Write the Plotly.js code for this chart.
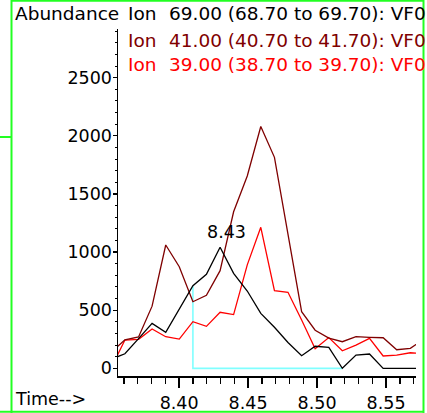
<!DOCTYPE html>
<html>
<head>
<meta charset="utf-8">
<script src="https://cdn.plot.ly/plotly-3.0.1.min.js"></script>
<style>
  html, body { margin: 0; padding: 0; background: #fff; }
  #chart { width: 427px; height: 413px; }
</style>
</head>
<body>
<div id="chart"></div>
<script>
// ---- data ----
const times = [8.3510, 8.3607, 8.3706, 8.3804, 8.3903, 8.4001, 8.4100, 8.4198, 8.4297, 8.4395,
               8.4494, 8.4592, 8.4691, 8.4789, 8.4888, 8.4986, 8.5085, 8.5183, 8.5282, 8.5380,
               8.5479, 8.5577, 8.5676, 8.5774];
const ion69 = [80, 125, 255, 387, 310, 510, 711, 809, 1041, 817,
               665, 473, 353, 222, 108, 190, 180, 0, 114, 123,
               0, 0, 0, 0];
const ion41 = [140, 245, 270, 535, 1061, 874, 573, 628, 840, 1347,
               1655, 2080, 1815, 1155, 487, 328, 260, 229, 272, 267,
               263, 160, 172, 250];
const ion39 = [10, 243, 249, 338, 272, 252, 401, 361, 482, 462,
               890, 1213, 668, 654, 416, 168, 265, 151, 200, 258,
               106, 114, 134, 125];
const legendLabels = ["69.00 (68.70 to 69.70): VF0", "41.00 (40.70 to 41.70): VF0", "39.00 (38.70 to 39.70): VF0"];
const peakLabel = "8.43";
const baselineStart = 6;   // index into times of integration start
const baselineEnd = 17;    // index into times of integration end
const apexIndex = 8;

// ---- layout geometry ----
const W = 427, H = 413;
const L = 118, R = 11, T = 29, B = 37;
const pw = W - L - R, ph = H - T - B;
const px = p => (p - L) / pw;
const py = q => (H - B - q) / ph;

const FONT = "DejaVu Sans, Arial, sans-serif";
const colors = ["#000000", "#7f0000", "#ff0000"];

const traces = [
  { x: [times[baselineStart], times[baselineStart], times[baselineEnd]],
    y: [ion69[baselineStart], 0, 0],
    mode: "lines", line: { color: "#80ffff", width: 1.6 }, hoverinfo: "skip" },
  { x: times, y: ion39, mode: "lines", line: { color: colors[2], width: 1.3 } },
  { x: times, y: ion41, mode: "lines", line: { color: colors[1], width: 1.3 } },
  { x: times, y: ion69, mode: "lines", line: { color: colors[0], width: 1.3 } }
];

const annotations = [
  { xref: "paper", yref: "paper", x: px(12.5), y: py(14), xanchor: "left", yanchor: "middle",
    text: "Abundance", showarrow: false, font: { family: FONT, size: 18.5, color: "#000" } },
  { xref: "paper", yref: "paper", x: px(12.5), y: py(399), xanchor: "left", yanchor: "middle",
    text: "Time-->", showarrow: false, font: { family: FONT, size: 17.5, color: "#000" } },
  { x: times[apexIndex], y: ion69[apexIndex], xanchor: "center", yanchor: "bottom",
    xshift: 6, yshift: 3, text: peakLabel, showarrow: false,
    font: { family: FONT, size: 17.5, color: "#000" } }
];
const lineY = [14, 40, 64];
legendLabels.forEach((lab, i) => {
  annotations.push({ xref: "paper", yref: "paper", x: px(125.5), y: py(lineY[i]), xanchor: "left", yanchor: "middle",
    text: "Ion", showarrow: false, font: { family: FONT, size: 18.5, color: colors[i] } });
  annotations.push({ xref: "paper", yref: "paper", x: px(166.5), y: py(lineY[i]), xanchor: "left", yanchor: "middle",
    text: lab, showarrow: false, font: { family: FONT, size: 18.5, color: colors[i] } });
});

const green = { color: "#22ff22", width: 2 };
const seg = (x0, y0, x1, y1) => ({ type: "line", xref: "paper", yref: "paper",
  x0: px(x0), y0: py(y0), x1: px(x1), y1: py(y1), line: green, layer: "above" });
const shapes = [
  seg(11.5, 0, 11.5, 413),
  seg(11.5, 0.8, 424, 0.8),
  seg(423.5, 0, 423.5, 413),
  seg(0, 411.8, 424, 411.8),
  seg(0, 137, 11.5, 137)
];

const layout = {
  width: W, height: H,
  margin: { l: L, r: R, t: T, b: B, pad: 0 },
  paper_bgcolor: "#fff", plot_bgcolor: "#fff",
  showlegend: false,
  font: { family: FONT, color: "#000" },
  xaxis: {
    range: [8.3557, 8.5717], showgrid: false, zeroline: false,
    showline: true, linecolor: "#000", linewidth: 1.5,
    tickmode: "linear", tick0: 8.40, dtick: 0.05, tickformat: ".2f",
    ticks: "outside", ticklen: 10, tickwidth: 1.3, tickcolor: "#000",
    minor: { dtick: 0.01, tick0: 8.40, ticks: "outside", ticklen: 6, tickwidth: 1.3, tickcolor: "#000", showgrid: false },
    tickfont: { family: FONT, size: 17.5, color: "#000" }
  },
  yaxis: {
    range: [-66, 2919], showgrid: false, zeroline: false,
    showline: true, linecolor: "#000", linewidth: 1.5,
    tickmode: "linear", tick0: 0, dtick: 500,
    ticks: "outside", ticklen: 4, tickwidth: 1.3, tickcolor: "#000",
    ticklabelstandoff: -3,
    minor: { dtick: 100, tick0: 0, ticks: "outside", ticklen: 2, tickwidth: 1, tickcolor: "#000", showgrid: false },
    tickfont: { family: FONT, size: 17.5, color: "#000" }
  },
  annotations: annotations,
  shapes: shapes
};

Plotly.newPlot("chart", traces, layout, { staticPlot: true, displayModeBar: false });
</script>
</body>
</html>
